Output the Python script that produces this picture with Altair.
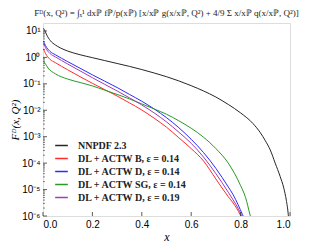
import altair as alt
import pandas as pd

# ---- data (x, log10 F) ----
series_names = [
    "NNPDF 2.3",
    "DL + ACTW B, ε = 0.14",
    "DL + ACTW D, ε = 0.14",
    "DL + ACTW SG, ε = 0.14",
    "DL + ACTW D, ε = 0.19",
]
series_colors = ["#262626", "#ff2b2b", "#2b2bff", "#269926", "#a03cb4"]

nnpdf_x = [0.002, 0.008, 0.015, 0.03, 0.05, 0.07, 0.1, 0.15, 0.2, 0.25, 0.3, 0.35, 0.4, 0.45, 0.5,
           0.55, 0.6, 0.65, 0.7, 0.75, 0.8, 0.85, 0.88, 0.9, 0.92, 0.94, 0.96, 0.975, 0.985, 0.993, 0.996]
nnpdf_log = [1.1, 1.0, 0.85, 0.63, 0.47, 0.36, 0.24, 0.10, -0.01, -0.12, -0.23, -0.34, -0.46, -0.59, -0.73,
             -0.89, -1.07, -1.27, -1.5, -1.78, -2.1, -2.5, -2.85, -3.15, -3.5, -4.0, -4.5, -4.95, -5.4, -5.95, -6.3]

actw_b_x = [0.002, 0.01, 0.028, 0.05, 0.1, 0.15, 0.2, 0.25, 0.3, 0.35, 0.4, 0.45, 0.5, 0.55, 0.6,
            0.65, 0.7, 0.75, 0.77, 0.798, 0.81]
actw_b_log = [0.32, 0.15, -0.07, -0.20, -0.47, -0.73, -0.98, -1.22, -1.46, -1.72, -1.99, -2.30, -2.64, -3.04, -3.45,
              -3.92, -4.6, -5.27, -5.51, -5.95, -6.2]

actw_d_x = [0.002, 0.01, 0.028, 0.05, 0.1, 0.15, 0.2, 0.25, 0.3, 0.35, 0.4, 0.45, 0.5, 0.55, 0.6,
            0.65, 0.7, 0.75, 0.77, 0.808, 0.82]
actw_d_log = [0.62, 0.45, 0.23, 0.10, -0.16, -0.41, -0.66, -0.90, -1.14, -1.40, -1.66, -1.95, -2.28, -2.66, -3.1,
              -3.6, -4.2, -4.9, -5.2, -5.95, -6.2]

actw_sg_x = [0.002, 0.008, 0.02, 0.05, 0.1, 0.15, 0.2, 0.25, 0.3, 0.35, 0.4, 0.45, 0.5, 0.55, 0.6,
             0.65, 0.7, 0.75, 0.8, 0.82, 0.838, 0.845]
actw_sg_log = [-0.17, -0.22, -0.40, -0.62, -0.82, -0.95, -1.08, -1.24, -1.40, -1.57, -1.76, -1.95, -2.15, -2.40, -2.68,
               -3.02, -3.45, -4.0, -4.85, -5.3, -5.95, -6.2]

actw_d19_x = [0.002, 0.01, 0.028, 0.05, 0.1, 0.15, 0.2, 0.25, 0.3, 0.35, 0.4, 0.45, 0.5, 0.55, 0.6,
              0.65, 0.7, 0.75, 0.78, 0.803, 0.815]
actw_d19_log = [0.55, 0.37, 0.15, 0.02, -0.25, -0.51, -0.77, -1.02, -1.27, -1.53, -1.80, -2.10, -2.44, -2.83, -3.25,
                -3.77, -4.4, -5.1, -5.55, -5.95, -6.2]

x_ticks = [0.0, 0.2, 0.4, 0.6, 0.8, 1.0]
y_ticks = [1e-6, 1e-5, 1e-4, 1e-3, 1e-2, 1e-1, 1e0, 1e1]
y_minor = [m * 10.0 ** k for k in range(-6, 2) for m in range(2, 10) if m * 10.0 ** k < 20]

# ---- build table ----
rows = []
for name, xs, ls in [
    (series_names[0], nnpdf_x, nnpdf_log),
    (series_names[1], actw_b_x, actw_b_log),
    (series_names[2], actw_d_x, actw_d_log),
    (series_names[3], actw_sg_x, actw_sg_log),
    (series_names[4], actw_d19_x, actw_d19_log),
]:
    for xv, lv in zip(xs, ls):
        rows.append({"x": xv, "F": 10.0 ** lv, "series": name})
df = pd.DataFrame(rows)

W, H = 247, 193
FONT = "Liberation Serif"

xscale = alt.Scale(domain=[0, 1], nice=False)
yscale = alt.Scale(type="log", domain=[1e-6, 20], nice=False)

label_expr = (
    "datum.value > 5 ? '10¹' : datum.value > 0.5 ? '10⁰' : datum.value > 0.05 ? '10⁻¹' : "
    "datum.value > 0.005 ? '10⁻²' : datum.value > 0.0005 ? '10⁻³' : datum.value > 0.00005 ? '10⁻⁴' : "
    "datum.value > 0.000005 ? '10⁻⁵' : '10⁻⁶'"
)

lines = alt.Chart(df).mark_line(clip=True, strokeWidth=1, interpolate="monotone").encode(
    x=alt.X("x:Q", scale=xscale,
            axis=alt.Axis(values=x_ticks, format=".1f", title="x", titleFontStyle="italic",
                          titleFontWeight="normal", titleFont=FONT, titleFontSize=12,
                          ticks=False, domain=False, grid=False, labelPadding=3, titlePadding=2)),
    y=alt.Y("F:Q", scale=yscale,
            axis=alt.Axis(values=y_ticks, labelExpr=label_expr, title="Fᴰ(x, Q²)",
                          titleFontStyle="italic", titleFontWeight="normal", titleFont=FONT,
                          titleFontSize=11, ticks=False, domain=False, grid=False,
                          labelPadding=3, titlePadding=1)),
    color=alt.Color("series:N", scale=alt.Scale(domain=series_names, range=series_colors),
                    legend=alt.Legend(title=None, orient="none", legendX=11, legendY=115,
                                      symbolType="stroke", symbolSize=160, symbolStrokeWidth=1.5,
                                      labelFont=FONT, labelFontSize=10, labelFontWeight="bold",
                                      labelColor="#222", rowPadding=0, labelOffset=9)),
    order=alt.Order("x:Q"),
)

xt_df = pd.DataFrame({"t": x_ticks})
yt_df = pd.DataFrame({"t": y_ticks})
ym_df = pd.DataFrame({"t": y_minor})

x_major = alt.Chart(xt_df).mark_rule(color="#333", strokeWidth=0.8).encode(
    x=alt.X("t:Q", scale=xscale), y=alt.value(H), y2=alt.value(H - 4))
y_major = alt.Chart(yt_df).mark_rule(color="#333", strokeWidth=0.8).encode(
    y=alt.Y("t:Q", scale=yscale), x=alt.value(0), x2=alt.value(4))
y_minor_r = alt.Chart(ym_df).mark_rule(color="#333", strokeWidth=0.6).encode(
    y=alt.Y("t:Q", scale=yscale), x=alt.value(0), x2=alt.value(2))

title = alt.TitleParams(
    "Fᴰ(x, Q²) = ∫ₓ¹ dxℙ fℙ/p(xℙ) [x/xℙ g(x/xℙ, Q²) + 4/9 Σ x/xℙ q(x/xℙ, Q²)]",
    font=FONT, fontSize=9, fontWeight="normal", fontStyle="normal", color="#222",
    anchor="middle", offset=5,
)

chart = alt.layer(lines, x_major, y_major, y_minor_r).properties(
    width=W, height=H, title=title,
    autosize=alt.AutoSizeParams(type="none"),
    padding={"left": 35, "top": 15, "right": 19, "bottom": 31},
).configure_view(stroke="#333", strokeWidth=1).configure_axis(
    labelFont=FONT, labelFontSize=11, labelColor="#333",
).configure(background="white")

chart.save("out.html", embed_options={"renderer": "svg", "actions": False})
